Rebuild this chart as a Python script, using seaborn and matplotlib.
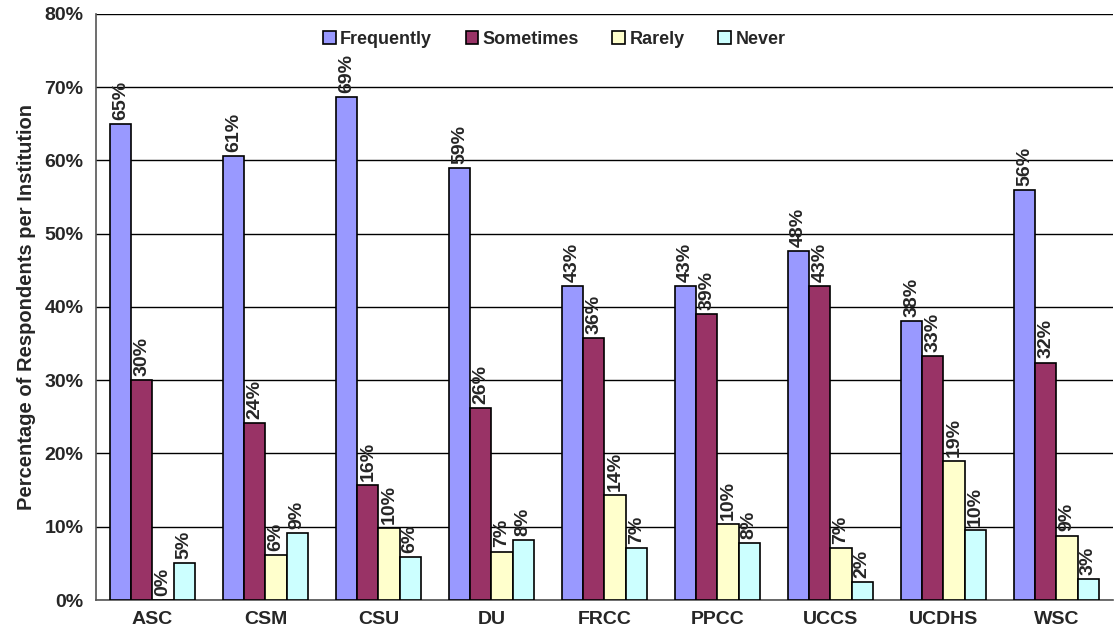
import pandas as pd
import matplotlib.pyplot as plt
import seaborn as sns
from matplotlib.ticker import PercentFormatter

# values (percent of respondents)
institutions = ["ASC", "CSM", "CSU", "DU", "FRCC", "PPCC", "UCCS", "UCDHS", "WSC"]
frequently = [65.0, 60.6, 68.6, 59.0, 42.9, 42.9, 47.6, 38.1, 55.9]
sometimes = [30.0, 24.2, 15.7, 26.2, 35.7, 39.0, 42.9, 33.3, 32.4]
rarely = [0.0, 6.1, 9.8, 6.6, 14.3, 10.4, 7.1, 19.0, 8.8]
never = [5.0, 9.1, 5.9, 8.2, 7.1, 7.8, 2.4, 9.5, 2.9]
responses = ["Frequently", "Sometimes", "Rarely", "Never"]
colors = ["#9999FF", "#993366", "#FFFFCC", "#CCFFFF"]

df = pd.DataFrame({"Institution": institutions, "Frequently": frequently,
                   "Sometimes": sometimes, "Rarely": rarely, "Never": never})
df = df.melt(id_vars="Institution", var_name="Response", value_name="Percent")

sns.set_style("white")
plt.rcParams['font.family'] = ['Liberation Sans', 'DejaVu Sans']

fig = plt.figure(figsize=(11.15, 6.32), dpi=100)
ax = fig.add_axes([0.0861, 0.0506, 0.912, 0.9274])

sns.barplot(data=df, x="Institution", y="Percent", hue="Response",
            hue_order=responses, palette=colors, saturation=1, width=0.75, gap=0,
            edgecolor="black", linewidth=1.2, ax=ax, zorder=3)

# bar value labels
for container in ax.containers:
    ax.bar_label(container, labels=[f"{v:.0f}%" for v in container.datavalues],
                 rotation=90, padding=3, fontsize=14, fontweight="bold")

ax.set_ylim(0, 80)
ax.set_yticks(range(0, 81, 10))
ax.yaxis.set_major_formatter(PercentFormatter(decimals=0))
ax.set_xlim(-0.5, len(institutions) - 0.5)
ax.set_xticks([i - 0.5 for i in range(len(institutions) + 1)], minor=True)
ax.tick_params(axis="x", which="major", length=0, pad=8, labelsize=14)
ax.tick_params(axis="x", which="minor", length=6, color="black", width=1, direction="out")
ax.tick_params(axis="y", length=6, color="black", width=1, direction="out", labelsize=14, pad=3)
for lbl in ax.get_xticklabels() + ax.get_yticklabels():
    lbl.set_fontweight("bold")

ax.grid(axis="y", color="black", linewidth=1, zorder=0)
ax.set_axisbelow(True)
for side in ["top", "right"]:
    ax.spines[side].set_visible(False)
ax.spines["left"].set_color("#555555")
ax.spines["bottom"].set_color("#555555")
ax.spines["left"].set_linewidth(1.2)
ax.spines["bottom"].set_linewidth(1.2)

ax.set_xlabel("")
ax.set_ylabel("Percentage of Respondents per Institution", fontsize=14.5,
              fontweight="bold", labelpad=6)

ax.legend(loc="upper left", bbox_to_anchor=(323 / 1115, 1 - 31 / 632),
          bbox_transform=fig.transFigure, ncol=4, frameon=False,
          prop={"weight": "bold", "size": 13}, handlelength=0.7, handleheight=0.7,
          handletextpad=0.25, columnspacing=1.85, borderpad=0, borderaxespad=0)

fig.savefig("out.png", dpi=100)
